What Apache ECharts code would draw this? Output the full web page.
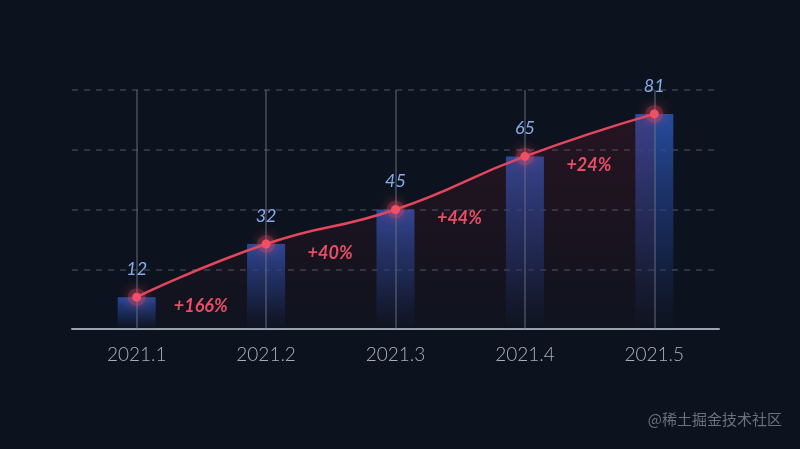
<!DOCTYPE html>
<html>
<head>
<meta charset="utf-8">
<script src="https://cdn.jsdelivr.net/npm/echarts@6/dist/echarts.min.js"></script>
<style>
html,body{margin:0;padding:0;background:#0d131e;}
#main{width:800px;height:449px;}
</style>
</head>
<body>
<div id="main"></div>
<script>
const categories = ['2021.1', '2021.2', '2021.3', '2021.4', '2021.5'];
const values = [12, 32, 45, 65, 81];
const growthLabels = ['+166%', '+40%', '+44%', '+24%', ''];
const yMin = 0, yMax = 90, yInterval = 22.5;

const chart = echarts.init(document.getElementById('main'));
chart.setOption({
  backgroundColor: '#0d131e',
  animation: false,
  graphic: [{
    type: 'text', right: 18, top: 412,
    style: { text: '@稀土掘金技术社区', fill: '#6b717d', font: '15px "Noto Sans CJK SC", sans-serif' }
  }],
  grid: { left: 72, width: 647, top: 90, bottom: 120 },
  xAxis: {
    type: 'category', data: categories,
    axisLine: { lineStyle: { color: '#9aa3b1', width: 2 } },
    axisTick: { show: false },
    axisLabel: { color: '#a9b0bc', fontSize: 19, margin: 16, fontFamily: 'Lato, sans-serif', fontWeight: 300 },
    splitLine: { show: false }
  },
  yAxis: {
    type: 'value', min: yMin, max: yMax, interval: yInterval,
    axisLine: { show: false }, axisTick: { show: false }, axisLabel: { show: false },
    splitLine: { lineStyle: { color: '#3a414d', type: [6, 6], width: 1.5 } }
  },
  series: [
    {
      type: 'bar', data: values, barWidth: 38, z: 2,
      itemStyle: {
        color: new echarts.graphic.LinearGradient(0, 0, 0, 1, [
          { offset: 0, color: 'rgba(40,78,165,0.95)' },
          { offset: 0.6, color: 'rgba(30,58,125,0.5)' },
          { offset: 1, color: 'rgba(25,45,95,0.03)' }
        ])
      },
      markLine: {
        silent: true, symbol: 'none', z: 3,
        label: { show: false },
        lineStyle: { color: 'rgba(120,130,145,0.4)', type: 'solid', width: 2 },
        data: categories.map(c => ({ xAxis: c }))
      }
    },
    {
      type: 'line', data: values, smooth: true, z: 5,
      symbol: 'circle', symbolSize: 9,
      lineStyle: { color: '#e2475d', width: 2.5 },
      itemStyle: {
        color: '#f2566c',
        borderColor: 'rgba(230,70,95,0.25)', borderWidth: 9,
        shadowColor: 'rgba(240,70,95,0.8)', shadowBlur: 12
      },
      areaStyle: {
        color: new echarts.graphic.LinearGradient(0, 0, 0, 1, [
          { offset: 0, color: 'rgba(150,25,45,0.26)' },
          { offset: 1, color: 'rgba(150,25,45,0.02)' }
        ])
      },
      label: {
        show: true, position: 'top', distance: 10,
        color: '#86aceb', fontSize: 18, fontStyle: 'italic',
        fontFamily: 'Lato, sans-serif'
      }
    },
    {
      type: 'line', data: values, smooth: true, z: 6,
      symbol: 'circle', symbolSize: 1, silent: true,
      itemStyle: { color: 'rgba(0,0,0,0)', borderWidth: 0 },
      lineStyle: { opacity: 0, width: 0 },
      label: {
        show: true, position: 'inside', offset: [64, 9],
        formatter: p => growthLabels[p.dataIndex],
        color: '#ea4d66', fontSize: 18, fontWeight: 'bold', fontStyle: 'italic',
        fontFamily: 'Lato, sans-serif'
      }
    }
  ]
});
</script>
</body>
</html>
